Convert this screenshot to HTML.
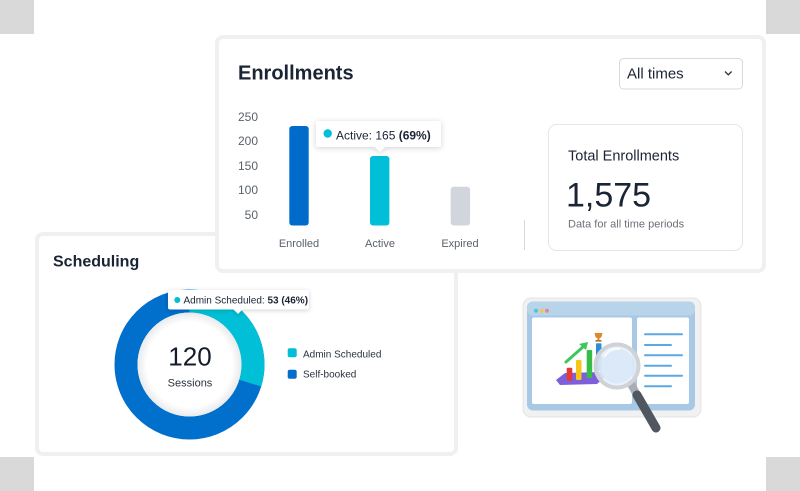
<!DOCTYPE html>
<html>
<head>
<meta charset="utf-8">
<style>
  html,body{margin:0;padding:0;}
  body{width:800px;height:491px;position:relative;overflow:hidden;background:#fff;font-family:"Liberation Sans",sans-serif;color:#1b2435;}
  .abs{position:absolute;}
  .t{position:absolute;line-height:20px;height:20px;white-space:nowrap;transform:translateY(1.5px);}
  .sq{position:absolute;background:#d9d9d9;width:34px;height:34px;}
  .card{position:absolute;box-sizing:border-box;border:4px solid #f0f0f0;border-radius:8px;background:#fff;}
  .ylab{position:absolute;left:220px;width:38px;text-align:right;font-size:12px;color:#5b616b;line-height:20px;height:20px;transform:translateY(0.8px);}
  .xlab{position:absolute;width:60px;text-align:center;font-size:11px;color:#5b616b;line-height:20px;height:20px;transform:translateY(0.8px);}
</style>
</head>
<body>
<div class="sq" style="left:0;top:0;"></div>
<div class="sq" style="left:766px;top:0;"></div>
<div class="sq" style="left:0;top:457px;"></div>
<div class="sq" style="left:766px;top:457px;"></div>

<!-- Illustration -->
<svg class="abs" style="left:0;top:0;z-index:0" width="800" height="491" viewBox="0 0 800 491">
  <rect x="523" y="298" width="178" height="119" rx="8" fill="#f1f1f1" stroke="#e4e4e4" stroke-width="1"/>
  <rect x="527" y="301.5" width="168" height="109" rx="6" fill="#a8c9e5"/>
  <rect x="527" y="301.5" width="168" height="14" rx="6" fill="#b7d4eb"/>
  <circle cx="536" cy="310.7" r="2" fill="#52c3d6"/>
  <circle cx="541.5" cy="310.7" r="2" fill="#f2c94c"/>
  <circle cx="547" cy="310.7" r="2" fill="#e58a8a"/>
  <rect x="532" y="317.5" width="100" height="86.5" rx="2" fill="#fff"/>
  <rect x="637" y="317.5" width="52" height="86.5" rx="2" fill="#fff"/>
  <g stroke="#5aa8e4" stroke-width="2" stroke-linecap="round">
    <line x1="645" y1="334.3" x2="682" y2="334.3"/>
    <line x1="645" y1="345" x2="671" y2="345"/>
    <line x1="645" y1="355.3" x2="682" y2="355.3"/>
    <line x1="645" y1="365.7" x2="671" y2="365.7"/>
    <line x1="645" y1="375.8" x2="682" y2="375.8"/>
    <line x1="645" y1="386.3" x2="671" y2="386.3"/>
  </g>
  <polygon points="556,380 565,373 602,372 604,378 597,384 560,385" fill="#7d5fdc"/>
  <rect x="566.7" y="367.7" width="5.6" height="13" rx="1" fill="#e53935"/>
  <rect x="576" y="360" width="5.5" height="20" rx="1" fill="#f5c518"/>
  <rect x="586.7" y="350" width="5.5" height="28" rx="1" fill="#35bd48"/>
  <rect x="596" y="343.3" width="5.5" height="28" rx="1" fill="#2d8fd8"/>
  <line x1="566" y1="362" x2="584" y2="346" stroke="#3cc85a" stroke-width="3" stroke-linecap="round"/>
  <polygon points="588,342 579,344 586,350" fill="#3cc85a"/>
  <path d="M594.5,333 h8 l-1,4 q-3,3 -6,0 z" fill="#d98a2b"/>
  <rect x="597.5" y="337.5" width="2" height="3" fill="#d98a2b"/>
  <rect x="595.5" y="340" width="6" height="1.6" fill="#b86f1e"/>
  <line x1="631" y1="384" x2="637" y2="395" stroke="#a9adb3" stroke-width="8" stroke-linecap="round"/>
  <line x1="637" y1="395" x2="656" y2="428" stroke="#51575f" stroke-width="9" stroke-linecap="round"/>
  <circle cx="617" cy="366" r="21.5" fill="#e8f0fa" stroke="#cfd2d7" stroke-width="4" fill-opacity="0.85"/>
  <circle cx="617" cy="366" r="17.5" fill="#d6e5f6" opacity="0.7"/>
  <path d="M604,357 q6,-9 16,-8" stroke="#fff" stroke-width="2" fill="none" opacity="0.8"/>
</svg>

<!-- Scheduling card -->
<div class="card" style="left:35px;top:232px;width:423px;height:224px;z-index:1;"></div>
<svg class="abs" style="left:0;top:0;z-index:1" width="800" height="491" viewBox="0 0 800 491">
  <defs>
    <radialGradient id="hole" cx="50%" cy="50%" r="50%">
      <stop offset="82%" stop-color="#ffffff"/>
      <stop offset="100%" stop-color="#e9eaec"/>
    </radialGradient>
  </defs>
  <circle cx="189.5" cy="364.5" r="63.5" fill="none" stroke="#0070cc" stroke-width="23"/>
  <circle cx="189.5" cy="364.5" r="63.5" fill="none" stroke="#00bfd6" stroke-width="23" stroke-dasharray="118.6 400" transform="rotate(-90 189.5 364.5)"/>
  <circle cx="189.5" cy="364.5" r="52" fill="url(#hole)"/>
  <rect x="287.7" y="348.3" width="9" height="9" rx="2" fill="#00bfd6"/>
  <rect x="287.7" y="369.8" width="9" height="9" rx="2" fill="#0070cc"/>
  <g style="filter:drop-shadow(0 1px 2px rgba(0,0,0,0.18))">
    <rect x="168" y="290" width="141" height="19.5" rx="2" fill="#fff"/>
    <polygon points="233,309 243,309 238,314" fill="#fff"/>
  </g>
  <circle cx="177.3" cy="300" r="3" fill="#00bfd6"/>
</svg>
<div class="t" style="left:53px;top:251px;font-size:16px;font-weight:bold;z-index:1;">Scheduling</div>
<div class="t" style="left:150px;width:80px;text-align:center;top:345px;font-size:26px;line-height:20px;z-index:1;color:#141c2b;">120</div>
<div class="t" style="left:150px;width:80px;text-align:center;top:371.5px;font-size:11px;z-index:1;color:#2b3240;">Sessions</div>
<div class="t" style="left:183.5px;top:289.5px;font-size:10px;z-index:1;color:#1b2435;">Admin Scheduled: <b>53 (46%)</b></div>
<div class="t" style="left:303px;top:343.7px;font-size:10px;z-index:1;color:#2b3240;">Admin Scheduled</div>
<div class="t" style="left:303px;top:364.3px;font-size:10px;z-index:1;color:#2b3240;">Self-booked</div>

<!-- Enrollments card -->
<div class="card" style="left:215px;top:35px;width:551px;height:238px;z-index:2;"></div>
<div class="abs" style="left:0;top:0;width:800px;height:491px;z-index:3;">
  <div class="t" style="left:238px;top:62px;font-size:20px;font-weight:bold;">Enrollments</div>
  <div class="ylab" style="top:105.7px;">250</div>
  <div class="ylab" style="top:130px;">200</div>
  <div class="ylab" style="top:155px;">150</div>
  <div class="ylab" style="top:179.3px;">100</div>
  <div class="ylab" style="top:204.3px;">50</div>
  <div class="xlab" style="left:269px;top:232.7px;">Enrolled</div>
  <div class="xlab" style="left:350px;top:232.7px;">Active</div>
  <div class="xlab" style="left:430px;top:232.7px;">Expired</div>
  <svg class="abs" style="left:0;top:0" width="800" height="491" viewBox="0 0 800 491">
    <rect x="289.3" y="126" width="19.4" height="99.5" rx="3" fill="#006bcb"/>
    <rect x="370" y="156" width="19.4" height="69.5" rx="3" fill="#00bfd6"/>
    <rect x="450.7" y="186.7" width="19.4" height="38.8" rx="3" fill="#d1d5dc"/>
    <line x1="524.5" y1="220" x2="524.5" y2="250" stroke="#d5d8dd" stroke-width="1"/>
    <g style="filter:drop-shadow(0 1px 3px rgba(0,0,0,0.18))">
      <rect x="316" y="121" width="125" height="26" rx="2" fill="#fff"/>
      <polygon points="374,146.5 386,146.5 380,152" fill="#fff"/>
    </g>
    <circle cx="327.7" cy="133.5" r="4.2" fill="#00bfd6"/>
    <rect x="619.5" y="58.5" width="123" height="30.5" rx="4" fill="#fff" stroke="#d6d9de" stroke-width="1"/>
    <polyline points="725,71.5 728.3,74.8 731.6,71.5" fill="none" stroke="#2b3240" stroke-width="1.3"/>
    <rect x="548.5" y="124.5" width="194" height="126" rx="8" fill="#fff" stroke="#e3e6ea" stroke-width="1"/>
  </svg>
  <div class="t" style="left:336px;top:123.5px;font-size:12px;">Active: 165 <b>(69%)</b></div>
  <div class="t" style="left:627px;top:63.3px;font-size:15px;">All times</div>
  <div class="t" style="left:568px;top:145px;font-size:14.5px;">Total Enrollments</div>
  <div class="t" style="left:566px;top:184.2px;font-size:34px;">1,575</div>
  <div class="t" style="left:568px;top:213px;font-size:11px;color:#6b717b;">Data for all time periods</div>
</div>
</body>
</html>
